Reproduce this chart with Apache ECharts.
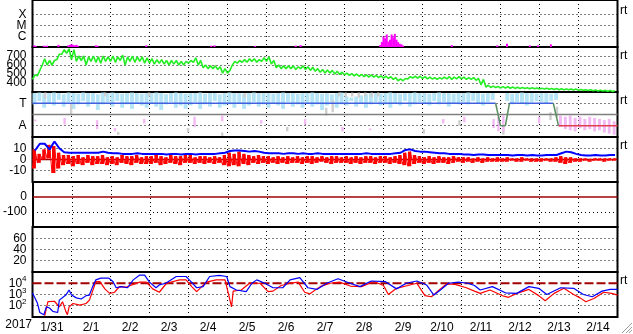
<!DOCTYPE html>
<html><head><meta charset="utf-8">
<script src="https://cdn.jsdelivr.net/npm/echarts/dist/echarts.min.js"></script>
<style>html,body{margin:0;padding:0;background:#fff}#c{width:633px;height:334px}</style>
</head><body><div id="c"></div><script>
// ---------------- DATA ----------------
const dayLabels = ['1/31','2/1','2/2','2/3','2/4','2/5','2/6','2/7','2/8','2/9','2/10','2/11','2/12','2/13','2/14'];
const yearLabel = '2017';
const sideTag = 'rt';
const stepHours = 3; // sample spacing of the banded series (hours since 1/31 00:00)

// panel tick labels
const xrayLabels = [[-4,'X'],[-5,'M'],[-6,'C']];
const speedTicks = [700,600,500,400];
const sectorLabels = [[3,'T'],[1,'A']];
const imfTicks = [10,0,-10];
const dstTicks = [0,-100];
const aeTicks = [60,40,20];
const fluxTicks = [4,3,2];

// X-ray flux (log10 W/m2) spikes: [hour, log10 flux]
const xrayLog = [[1,-6.85],[2,-6.9],[7,-6.88],[8,-6.9],[9,-6.88],[16,-6.8],[22,-6.85],[23,-6.8],[24,-6.75],[25,-6.8],[26,-6.85],[27,-6.8],[28,-6.88],
 [39,-6.85],[40,-6.88],[70,-6.85],[110,-6.88],[112,-6.85],[137,-6.9],[162,-6.88],[165,-6.82],
 [214,-6.82],[215,-6.53],[216,-6.02],[217,-6.2],[218,-5.84],[219,-6.5],[220,-6.32],[221,-5.84],[222,-6.1],[223,-5.78],[224,-6.32],[225,-6.55],[226,-6.7],[227,-6.75],[228,-6.85],
 [258,-6.82],[286,-6.85],[292,-6.7],[306,-6.85],[311,-6.85],[319,-6.75]];

// Solar wind speed (km/s), low/high per 3 h
const speedLo = [440,480,600,600,600,660,720,730, 660,640,650,600,640,630,620,640, 640,630,650,600,640,630,640,620, 620,610,620,610,600,610,600,600,
 620,630,600,570,560,560,550,510, 510,600,620,630,630,640,630,640, 640,610,570,560,560,560,550,560, 550,540,530,520,510,510,500,495,
 490,485,480,475,470,465,465,460, 455,450,440,425,425,445,455,455, 450,445,445,440,445,445,440,445, 445,440,440,430,380,355,350,350,
 345,345,342,340,340,338,336,335, 333,332,330,328,326,325,324,322, 320,318,316,314,312,310,308,306];
const speedHi = [490,540,670,650,650,720,770,780, 770,700,700,690,700,690,700,690, 700,690,710,690,700,690,690,680, 670,660,660,650,650,650,640,640,
 650,680,650,600,590,590,580,560, 540,640,650,660,670,670,660,680, 690,650,600,590,590,590,580,590, 580,575,560,550,545,540,530,520,
 510,505,500,495,490,490,485,480, 475,470,460,445,450,470,475,475, 470,465,460,460,465,470,465,470, 465,460,460,450,440,375,365,362,
 360,358,356,352,350,348,346,345, 343,342,340,338,336,334,333,332, 328,326,324,322,320,318,316,314];

// IMF sector panel: light-blue band (per 3 h), pink/gray marks [hour, lo, hi]
const lightLo = [2.9,3.2,2.6,3.0,2.8,3.3,2.7,3.1, 2.5,2.9,3.2,2.7,3.0,2.4,2.9,3.1, 2.7,3.2,2.6,2.9,2.5,3.0,2.8,2.6, 3.0,2.7,2.4,2.9,3.1,2.6,2.8,2.5,
 2.8,3.1,2.5,2.9,2.7,3.2,2.6,2.8, 2.9,2.6,3.0,2.5,2.8,3.1,2.7,2.9, 2.6,3.0,2.8,2.5,3.1,2.7,2.9,2.6, 3.0,2.7,2.9,2.4,2.8,3.1,2.6,2.9,
 2.8,3.2,2.7,3.0,2.6,2.9,3.1,2.8, 2.9,2.6,3.0,2.8,3.2,2.7,2.9,3.1, 3.0,2.8,3.2,2.9,3.1,2.7,3.0,2.9, 3.1,2.9,3.2,3.0,2.8,3.1,3.3,null,
 null,3.2,2.9,3.1,3.0,2.8,3.1,3.2, 3.1,3.0,3.2,3.3];
const lightHi = [3.9,3.95,3.85,3.9,3.95,3.9,3.8,3.95, 3.9,3.85,3.95,3.9,3.9,3.8,3.95,3.9, 3.95,3.9,3.85,3.9,3.95,3.9,3.85,3.9, 3.9,3.95,3.9,3.8,3.9,3.95,3.9,3.85,
 3.9,3.9,3.95,3.85,3.9,3.9,3.8,3.9, 3.95,3.9,3.9,3.85,3.9,3.95,3.9,3.9, 3.9,3.85,3.9,3.95,3.9,3.9,3.85,3.9, 3.9,3.95,3.9,3.85,3.9,3.8,3.9,3.95,
 3.6,3.5,3.6,3.7,3.8,3.9,3.9,3.85, 3.9,3.95,3.9,3.85,3.9,3.9,3.95,3.9, 3.9,3.85,3.9,3.95,3.9,3.9,3.85,3.9, 3.9,3.95,3.9,3.9,3.85,3.9,3.9,null,
 null,3.9,3.85,3.9,3.95,3.9,3.9,3.85, 3.9,3.9,3.85,3.9];
const pinkSparse = [[1,1.4,1.55],[19,1.1,1.7],[39,0.7,1.5],[50,0.5,0.8],[68,1.2,1.6],[99,0.9,1.8],[116,1.4,1.9],[140,1.2,1.5],[167,1.1,1.6],
 [190,0.5,0.9],[207,0.6,0.75],[252,1.2,1.6],[265,1.3,1.8],[283,0.8,1.6],[286,0.5,1.8],[289,0.5,1.9],[311,1.2,1.8]];
const pinkDense = [[324,0.9,1.9],[327,0.7,1.8],[330,0.6,1.9],[333,0.5,1.7],[336,0.8,1.8],[339,0.6,1.6],[342,0.7,1.8],[345,0.5,1.7],[348,0.6,1.6],[351,0.4,1.5],[354,0.3,1.6],[357,0.2,1.4]];
const grayMarks = [[7,3.4,3.95],[23,2.0,3.0],[44,3.6,3.95],[52,0.2,0.45],[71,3.6,3.95],[95,0.4,0.8],[116,0.1,0.4],[130,3.5,3.9],[156,0.5,0.9],
 [180,1.9,2.6],[184,2.2,3.3],[188,3.6,3.95],[192,3.55,3.95],[196,3.6,3.95],[200,3.5,3.95],[204,3.6,3.95],[208,3.55,3.95],[212,3.6,3.95],
 [240,0.3,0.7],[262,1.0,1.5],[289,0.2,1.0],[318,1.5,2.2],[322,1.8,2.7]];
// sector: 3 = Toward, 1 = Away
const sectorPts = [[0,3],[285,3],[288,1],[291,1],[293.5,3],[320.5,3],[323.7,1],[360,1]];

// IMF Bt (nT) per 3 h and Bz low/high per 3 h
const btVals = [8,14,14,9,16,10,6.5,6, 6,6,6,6,6,6,7,6, 5.5,5.5,5,5,5,5.5,5,5, 5,5,5,4.5,5,5,4.5,5, 5,4.5,5,5,5,5,5.5,6,
 7.5,8,8,7.5,7,7.5,7,6, 5.5,5.5,5.5,5,5.5,5.5,5,5.5, 5,5,5.5,5,5,5,5,5, 5,5,5,5,5.5,5,5,5, 5,5,5.5,6,8.5,9,7.5,7,
 7,6.5,6,5.5,5.5,5,5,5, 4.5,4.5,4,4.5,4.5,4,4,4, 4,4,3.5,4,4,3.5,4,3.5, 3.5,4,4,4,5.5,7,6.5,5, 4,3.5,3.5,4,3.5,3.5,4,4];
const bzLo = [-8,-3,0,1,-12,-8,-5,-4, -6,-4,-5,-3,-5,-4,-4,-5, -4,-5,-3,-4,-5,-3,-4,-4, -4,-3,-5,-4,-3,-4,-5,-3, -3,-4,-3,-4,-3,-4,-3,-5,
 -6,-5,-6,-4,-5,-3,-4,-3, -4,-3,-4,-3,-4,-3,-3,-4, -3,-4,-3,-2,-3,-4,-3,-3, -3,-4,-3,-4,-3,-3,-4,-3, -3,-4,-3,-4,-5,-6,-4,-3,
 -4,-3,-4,-3,-3,-4,-3,-2, -3,-2,-3,-2,-3,-2,-2,-2, -2,-2,-1,-2,-2,-1,-2,-2, -2,-1,-2,-2,-3,-4,-3,-2, -2,-1,-2,-1,-1,-2,-1,-1];
const bzHi = [9,5,9,13,12,6,4,4, 3,4,2,4,3,3,4,2, 3,2,4,3,3,4,2,3, 3,4,3,2,4,3,3,4, 4,2,3,3,2,3,2,4,
 6,5,7,5,4,3,4,3, 3,2,3,2,3,2,3,2, 3,3,2,3,2,3,3,2, 3,2,3,2,3,3,2,3, 3,2,3,4,6,7,4,3,
 2,3,2,3,2,2,3,2, 2,2,1,2,1,2,1,2, 1,2,1,1,2,1,1,1, 1,1,1,2,3,2,2,1, 1,1,0.5,1,1,1,1,1];

// Dst reference level (nT)
const dstLevel = [0];

// electron flux (log10) : [hour, log10 flux]
const fluxBlueLog = [[0,3.13],[3,2.24],[4.5,1.4],[7,1.2],[8.5,1.9],[10.5,1.8],[12.5,1.5],[15.5,1.4],[16.5,2.5],[20.5,2.95],[22.5,3.4],[24,2.95],[27,2.7],[30,2.6],[33,2.9],[35,2.95],[37,3.7],[39,4.3],[42,4.45],[47,4.45],[49.5,4.15],[51.5,3.6],[54.5,3.7],[58.5,3.6],[62,4.3],[66,4.73],[69,4.73],[72,4.1],[76,3.6],[78,3.85],[82,4.0],[88.5,4.6],[94.5,4.6],[96.5,4.3],[101,3.6],[105,3.7],[109,4.6],[115,4.7],[119.5,4.6],[121.5,3.7],[125.5,3.4],[131.5,3.25],[135,4.0],[138,4.3],[143,4.0],[148,3.6],[154,3.6],[158.5,4.3],[164.5,4.5],[169.5,3.6],[175,3.45],[181,4.0],[188,4.4],[195.5,4.0],[201.5,3.7],[208.5,4.2],[217,4.15],[224,3.5],[230,4.0],[236.5,4.2],[242.5,3.85],[247,2.95],[251,3.4],[256,4.0],[262,4.1],[268,4.0],[272,3.8],[275.5,3.4],[283,3.7],[291,3.15],[298,3.1],[305.5,3.7],[311.5,3.55],[316.5,3.0],[325,3.6],[333,3.55],[339,3.0],[344.5,2.8],[350.5,3.3],[355.5,3.45],[360,3.45]];
const fluxRedLog = [[7.5,1.1],[9.5,2.36],[13.5,2.4],[16.5,1.9],[18.5,2.36],[20.5,1.5],[21.5,1.2],[22.5,1.9],[25,2.2],[29,2.05],[33,2.2],[35,2.5],[36.5,3.1],[39,4.15],[41.5,4.15],[44.5,3.5],[47.5,3.1],[50.5,3.2],[53.5,3.7],[57.5,3.65],[62,3.9],[66,4.1],[70,4.1],[74,3.5],[78,3.2],[82.5,4.0],[90.5,4.3],[94.5,4.3],[98,3.7],[101,3.25],[107,4.1],[113,4.3],[118.5,4.3],[120.5,3.1],[122.5,1.9],[123.5,3.3],[128.5,3.4],[133.5,4.0],[140,4.0],[145,3.25],[148,3.3],[153,3.8],[158.5,4.0],[163.5,4.1],[167.5,3.2],[170.5,3.05],[177,3.7],[183,4.0],[189,4.1],[195.5,3.75],[202.5,3.7],[210,4.15],[216,3.8],[219,3.0],[224,3.55],[231,3.8],[236.5,4.0],[241.5,2.9],[245.5,2.8],[251,3.5],[255,3.95],[260,3.9],[267,3.6],[272,3.3],[275.5,3.1],[281.5,3.4],[290,2.85],[293,2.75],[298,3.1],[305.5,3.45],[311.5,2.9],[315.5,2.45],[321,3.1],[327,3.55],[333,3.0],[337,2.7],[340.5,2.35],[345.5,2.65],[351.5,3.2],[356.5,3.1],[360,2.95]];

// ---------------- CHART ----------------
const FONT = '"Liberation Sans", Arial, sans-serif';
const DOT = [1,3];
const layout = [
  {top:-2, height:49, min:-7, max:-2.64, interval:1},
  {top:47, height:45, min:300, max:800, interval:100},
  {top:92, height:45, min:0, max:4, interval:1},
  {top:137, height:45, min:-20, max:20, interval:10},
  {top:182, height:45, min:-200, max:100, interval:100},
  {top:227, height:45, min:0, max:80, interval:20},
  {top:272, height:45, min:1, max:5, interval:1}
];
const labelMaps = [
  new Map(xrayLabels),
  new Map(speedTicks.map(v=>[v,String(v)])),
  new Map(sectorLabels),
  new Map(imfTicks.map(v=>[v,String(v)])),
  new Map(dstTicks.map(v=>[v,String(v)])),
  new Map(aeTicks.map(v=>[v,String(v)])),
  new Map(fluxTicks.map(v=>[v,'{b|10}{s|'+v+'}']))
];

function lvl(gi, values, stroke, width, dash, z) {
  return {type:'custom', xAxisIndex:gi, yAxisIndex:gi, z:z, silent:true,
    data: values.map(v=>[0,v]), encode:{x:0,y:1},
    renderItem: function(params, api){
      const cs = params.coordSys;
      let y = api.coord([0, api.value(1)])[1];
      if (width === 1) y = Math.round(y - 0.5) + 0.5;
      return {type:'line', shape:{x1:cs.x, y1:y, x2:cs.x+cs.width, y2:y},
        style:{stroke:stroke, lineWidth:width, lineDash:dash||null, fill:null}};
    }};
}
// vertical strokes from lo to hi, covering `frac` of each time slot
function band(gi, items, color, z, frac) {
  return {type:'custom', xAxisIndex:gi, yAxisIndex:gi, z:z, silent:true,
    data: items, encode:{x:0, y:[1,2]},
    renderItem: function(params, api){
      const cs = params.coordSys;
      const t = api.value(0), lo = api.value(1), hi = api.value(2), w = api.value(3);
      const a = api.coord([t, hi]), b = api.coord([t + w, lo]);
      const x0 = Math.max(a[0], cs.x);
      const x1 = Math.min(a[0] + (b[0]-a[0]) * frac, cs.x + cs.width);
      const y0 = Math.max(a[1], cs.y), y1 = Math.min(b[1], cs.y + cs.height);
      if (!(x1 > x0) || !(y1 >= y0)) return null;
      return {type:'rect', shape:{x:x0, y:y0, width:Math.max(x1-x0,1), height:Math.max(y1-y0,1)}, style:{fill:color}};
    }};
}
function bars(gi, pts, color, z, w) {
  return {type:'custom', xAxisIndex:gi, yAxisIndex:gi, z:z, silent:true,
    data: pts, encode:{x:0, y:1},
    renderItem: function(params, api){
      const cs = params.coordSys;
      const p = api.coord([api.value(0), api.value(1)]);
      const bottom = cs.y + cs.height;
      return {type:'rect', shape:{x:p[0]-w/2, y:p[1], width:w, height:bottom-p[1]}, style:{fill:color}};
    }};
}
function line(gi, pts, color, width, z) {
  return {type:'line', xAxisIndex:gi, yAxisIndex:gi, data:pts, symbol:'none', showSymbol:false,
    lineStyle:{color:color, width:width}, z:z, silent:true, clip:true};
}
const loHiItems = (lo, hi) => lo.map((l,i)=> (l==null||hi[i]==null) ? null : [i*stepHours, l, hi[i], stepHours]).filter(Boolean);
// noisy trace: each slot's low then high reading, in time order
const zigzag = (lo, hi) => { const out = []; lo.forEach((l,i)=>{ out.push([i*stepHours, l]); out.push([i*stepHours+stepHours/2, hi[i]]); }); return out; };

const series = [];
// panel 1: X-ray
series.push(lvl(0, xrayLabels.map(d=>d[0]), '#000', 1, DOT, 1));
series.push(bars(0, xrayLog, '#ff00ff', 3, 2));
// panel 2: speed
series.push(lvl(1, speedTicks, '#000', 1, DOT, 1));
series.push(line(1, zigzag(speedLo, speedHi), '#22ee22', 1.6, 3));
// panel 3: sector
series.push(band(2, loHiItems(lightLo, lightHi), '#b4e4f6', 2, 0.8));
series.push(band(2, grayMarks.map(d=>[d[0],d[1],d[2],1.5]), '#cfcfcf', 2, 1));
series.push(band(2, pinkSparse.map(d=>[d[0],d[1],d[2],1.5]), '#f4baf4', 2, 1));
series.push(band(2, pinkDense.map(d=>[d[0],d[1],d[2],stepHours]), '#f2b8f2', 2, 0.6));
series.push(lvl(2, sectorLabels.map(d=>d[0]), '#000', 1, DOT, 3));
series.push(lvl(2, [2], '#808080', 1.5, null, 3));
for (let k = 0; k < sectorPts.length-1; k++) {
  const a = sectorPts[k], b = sectorPts[k+1];
  let col = '#5a9060';
  if (a[1]===3 && b[1]===3) col = '#4060e0';
  else if (a[1]===1 && b[1]===1 && b[0]-a[0] > 10) col = '#e04050';
  series.push(line(2, [a,b], col, 1.5, 5));
}
// panel 4: IMF
series.push(lvl(3, imfTicks.filter(v=>v!==0), '#000', 1, DOT, 1));
series.push(lvl(3, [0], '#a00000', 1.5, null, 2));
series.push(band(3, loHiItems(bzLo, bzHi), '#ff0000', 3, 0.7));
series.push(line(3, zigzag(bzLo, bzHi), '#ff0000', 1, 3));
series.push(line(3, btVals.map((v,i)=>[i*stepHours+stepHours/2, v]), '#0000ff', 2, 4));
// panel 5: Dst
series.push(lvl(4, dstTicks.filter(v=>v!==0), '#000', 1, DOT, 1));
series.push(lvl(4, dstLevel, '#a00000', 1.5, null, 2));
// panel 6
series.push(lvl(5, aeTicks, '#000', 1, DOT, 1));
// panel 7: electrons
series.push(lvl(6, fluxTicks.filter(v=>v!==4), '#000', 1, DOT, 1));
series.push(lvl(6, [4], '#a00000', 2, [9,3], 2));
series.push(line(6, fluxRedLog, '#ff0000', 1.2, 3));
series.push(line(6, fluxBlueLog, '#0000ff', 1.2, 4));

const xAxes = layout.map((p,i)=>({type:'value', gridIndex:i, min:0, max:360, interval:24,
  axisLabel:{show:false}, axisTick:{show:false}, axisLine:{show:false},
  splitLine:{show:true, lineStyle:{color:'#000', width:1, type:DOT}}}));
xAxes.push({type:'category', gridIndex:6, data:dayLabels, boundaryGap:true, position:'bottom',
  axisLine:{show:false}, axisTick:{show:false}, splitLine:{show:false},
  axisLabel:{interval:0, margin:5, fontSize:12, color:'#000', fontFamily:FONT}});

const yAxes = layout.map((p,i)=>({type:'value', gridIndex:i, min:p.min, max:p.max, interval:p.interval,
  axisLine:{show:false}, axisTick:{show:false}, splitLine:{show:false},
  axisLabel:{show:true, margin:6, fontSize:12, color:'#000', fontFamily:FONT, showMinLabel:true, showMaxLabel:true,
    formatter: function(v){ const key = Math.round(v*1000)/1000; return labelMaps[i].has(key) ? labelMaps[i].get(key) : ''; },
    rich: {b:{fontSize:12, lineHeight:16, color:'#000', fontFamily:FONT}, s:{fontSize:8, lineHeight:8, verticalAlign:'top', color:'#000', fontFamily:FONT}}
  }}));

const tagRows = [11, 56, 101, 146, 281];
const graphic = [
  {type:'text', x:32, y:325, z:10, style:{text:yearLabel, font:'12px '+FONT, fill:'#000', textAlign:'right', textVerticalAlign:'middle', align:'right', verticalAlign:'middle'}}
].concat(tagRows.map(y=>({type:'text', x:620, y:y, z:10, style:{text:sideTag, font:'12px '+FONT, fill:'#000', textVerticalAlign:'middle', verticalAlign:'middle'}})))
 .concat([[622,333,632,323],[626,333,632,327],[629,333,632,330]].map(s=>({type:'line', z:10, shape:{x1:s[0],y1:s[1],x2:s[2],y2:s[3]}, style:{stroke:'#9a9a9a', lineWidth:1}})));

const chart = echarts.init(document.getElementById('c'), null, {renderer:'canvas'});
chart.setOption({
  animation:false, backgroundColor:'#fff',
  textStyle:{fontFamily:FONT},
  grid: layout.map(p=>({left:32.5, width:585, top:p.top, height:p.height, show:true, borderColor:'#000', borderWidth:2, backgroundColor:'transparent'})),
  xAxis:xAxes, yAxis:yAxes, series:series, graphic:graphic
});
</script></body></html>
